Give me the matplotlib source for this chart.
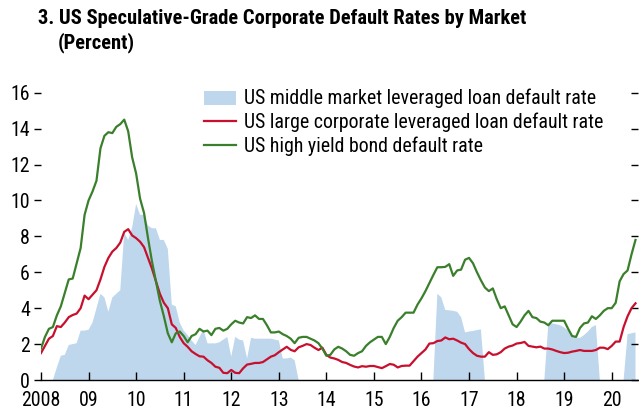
import numpy as np
import pandas as pd
import matplotlib
matplotlib.use("Agg")
import matplotlib.pyplot as plt

plt.rcParams['font.family'] = ['Roboto Condensed', 'Liberation Sans Narrow',
                               'Liberation Sans', 'DejaVu Sans']

# monthly, Jan 2008 .. Jul 2020
dates = pd.date_range("2008-01-01", periods=151, freq="MS")

high_yield = [
    1.75, 2.4, 2.85, 2.95, 3.6, 4.1, 4.85, 5.6, 5.65, 6.5, 7.35, 9.2,
    10.0, 10.5, 11.1, 12.9, 13.6, 13.8, 13.75, 14.1, 14.25, 14.5, 13.85, 12.4,
    11.5, 10.1, 9.3, 7.9, 6.6, 5.5, 4.4, 3.55, 2.6, 2.1, 2.6, 2.7,
    2.45, 2.1, 2.45, 2.55, 2.85, 2.7, 2.75, 2.5, 2.85, 2.9, 2.75, 2.85,
    3.1, 3.3, 3.2, 3.15, 3.5, 3.45, 3.6, 3.4, 3.4, 3.05, 2.65, 2.65,
    2.7, 2.55, 2.45, 2.3, 2.05, 2.35, 2.4, 2.4, 2.3, 2.2, 2.05, 1.75,
    1.35, 1.4, 1.7, 1.85, 1.75, 1.6, 1.4, 1.35, 1.5, 1.6, 1.9, 2.1,
    2.25, 2.4, 2.4, 2.0, 2.4, 2.9, 3.3, 3.5, 3.75, 3.75, 3.75, 4.2,
    4.55, 4.95, 5.4, 5.85, 6.28, 6.28, 6.3, 6.45, 5.8, 6.1, 6.15, 6.7,
    6.8, 6.5, 6.0, 5.55, 5.15, 4.95, 5.1, 4.5, 4.0, 4.1, 3.6, 3.1,
    2.95, 3.25, 3.6, 3.85, 3.5, 3.45, 3.25, 3.2, 3.05, 3.3, 3.3, 3.3,
    3.3, 2.85, 2.45, 2.4, 2.9, 3.15, 3.2, 3.55, 3.4, 3.6, 3.85, 4.0,
    4.0, 4.3, 5.5, 5.9, 6.1, 7.0, 7.8,
]

large_corp = [
    1.5, 1.9, 2.3, 2.45, 3.0, 2.95, 3.2, 3.5, 3.62, 3.7, 4.0, 4.7,
    4.5, 4.75, 5.0, 5.6, 6.3, 6.8, 7.15, 7.35, 7.65, 8.25, 8.4, 8.05,
    7.9, 7.7, 7.4, 6.8, 6.2, 5.5, 4.8, 4.3, 4.0, 3.1, 2.9, 2.4,
    2.05, 1.85, 1.6, 1.45, 1.32, 1.3, 1.1, 0.95, 0.74, 0.68, 0.4, 0.38,
    0.56, 0.4, 0.38, 0.65, 0.86, 0.9, 0.95, 0.95, 1.0, 1.15, 1.3, 1.38,
    1.55, 1.7, 1.85, 1.68, 1.6, 1.82, 1.9, 2.0, 1.95, 1.8, 1.67, 1.8,
    1.4, 1.25, 1.2, 1.12, 1.0, 0.95, 0.84, 0.75, 0.7, 0.77, 0.74, 0.78,
    0.78, 0.72, 0.66, 0.77, 0.89, 0.85, 0.7, 0.78, 0.8, 0.8, 1.05, 1.3,
    1.5, 1.7, 2.03, 2.05, 2.17, 2.2, 2.37, 2.27, 2.3, 2.2, 2.08, 2.0,
    1.72, 1.5, 1.35, 1.3, 1.3, 1.55, 1.4, 1.43, 1.55, 1.75, 1.86, 1.92,
    2.03, 2.06, 2.12, 1.9, 1.86, 1.82, 1.86, 1.75, 1.75, 1.7, 1.62, 1.55,
    1.5, 1.52, 1.58, 1.62, 1.67, 1.62, 1.62, 1.62, 1.67, 1.8, 1.8, 1.72,
    1.9, 2.14, 2.14, 2.95, 3.55, 4.0, 4.27,
]

nan = np.nan
middle_market = [
    nan, nan, nan, 0.0, 0.7, 1.35, 1.4, 1.95, 2.0, 2.05, 2.75, 2.75,
    2.8, 3.2, 4.0, 4.8, 4.6, 3.8, 4.6, 4.8, 5.0, 8.2, 7.8, 8.5,
    9.8, 9.2, 9.2, 8.6, 8.45, 8.45, 7.8, 7.8, 7.3, 4.2, 4.1, 3.2,
    2.75, 2.5, 2.2, 1.95, 2.4, 2.8, 2.04, 2.04, 2.04, 2.1, 2.25, 2.4,
    1.3, 2.4, 2.25, 2.2, 1.2, 2.35, 2.3, 2.3, 2.3, 2.3, 2.3, 2.25,
    2.2, 1.2, 1.2, 1.25, 1.1, 0.0, nan, nan, nan, nan, nan, nan,
    nan, nan, nan, nan, nan, nan, nan, nan, nan, nan, nan, nan,
    nan, nan, nan, nan, nan, nan, nan, nan, nan, nan, nan, nan,
    nan, nan, nan, 0.0, 4.8, 4.6, 3.9, 3.88, 3.85, 3.8, 3.5, 2.65,
    2.7, 2.73, 2.78, 2.82, 0.0, nan, nan, nan, nan, nan, nan, nan,
    nan, nan, nan, nan, nan, nan, nan, 0.0, 3.1, 3.15, 3.1, 3.05,
    2.92, 2.75, 2.5, 2.35, 2.35, 2.5, 2.7, 2.95, 3.06, 0.0, nan, nan,
    nan, nan, nan, 0.0, 2.55, 2.6, 2.65,
]

years = list(range(2008, 2021))
year_labels = ['2008'] + ['%02d' % (y % 100) for y in years[1:]]
y_ticks = [0, 2, 4, 6, 8, 10, 12, 14, 16]

# decimal years for plotting
t = dates.year + (dates.month - 1) / 12.0

fig = plt.figure(figsize=(6.39, 4.16), dpi=100)
ax = fig.add_axes([41 / 639, 1 - 380 / 416, 597 / 639, (380 - 92.7) / 416])

blue = '#bed7ec'
red = '#c8102e'
green = '#3a7f2b'

mm = np.array(middle_market, dtype=float)
ax.fill_between(t, 0, mm, where=~np.isnan(mm), color=blue, lw=0,
                label='US middle market leveraged loan default rate')
ax.plot(t, large_corp, color=red, lw=1.6,
        label='US large corporate leveraged loan default rate')
ax.plot(t, high_yield, color=green, lw=1.6,
        label='US high yield bond default rate')

ax.set_xlim(2008, 2008 + 597 / 47.56)
ax.set_ylim(0, 16)
ax.set_xticks(years)
ax.set_xticklabels(year_labels)
ax.set_yticks(y_ticks)

for s in ['left', 'top', 'right']:
    ax.spines[s].set_visible(False)
ax.spines['bottom'].set_linewidth(1.0)

ax.tick_params(axis='x', direction='in', length=6, width=1, labelsize=14.3, pad=8)
ax.tick_params(axis='y', direction='out', length=5, width=1, labelsize=14.3,
               right=True, pad=3)
# right side ticks inward
for tl in ax.yaxis.get_ticklines()[1::2]:
    tl.set_marker(0)

leg = ax.legend(loc='upper left', bbox_to_anchor=(204 / 639, 1 - 89 / 416),
                bbox_transform=fig.transFigure, frameon=False, fontsize=14.3,
                handlelength=1.6, handletextpad=0.4, labelspacing=0.22,
                borderaxespad=0, borderpad=0)

fig.text(38 / 639, 1 - 9 / 416, '3. US Speculative-Grade Corporate Default Rates by Market',
         fontsize=14.8, fontweight='bold', va='top', ha='left')
fig.text(58 / 639, 1 - 32 / 416, '(Percent)',
         fontsize=14.8, fontweight='bold', va='top', ha='left')

fig.savefig('out.png', dpi=100)
